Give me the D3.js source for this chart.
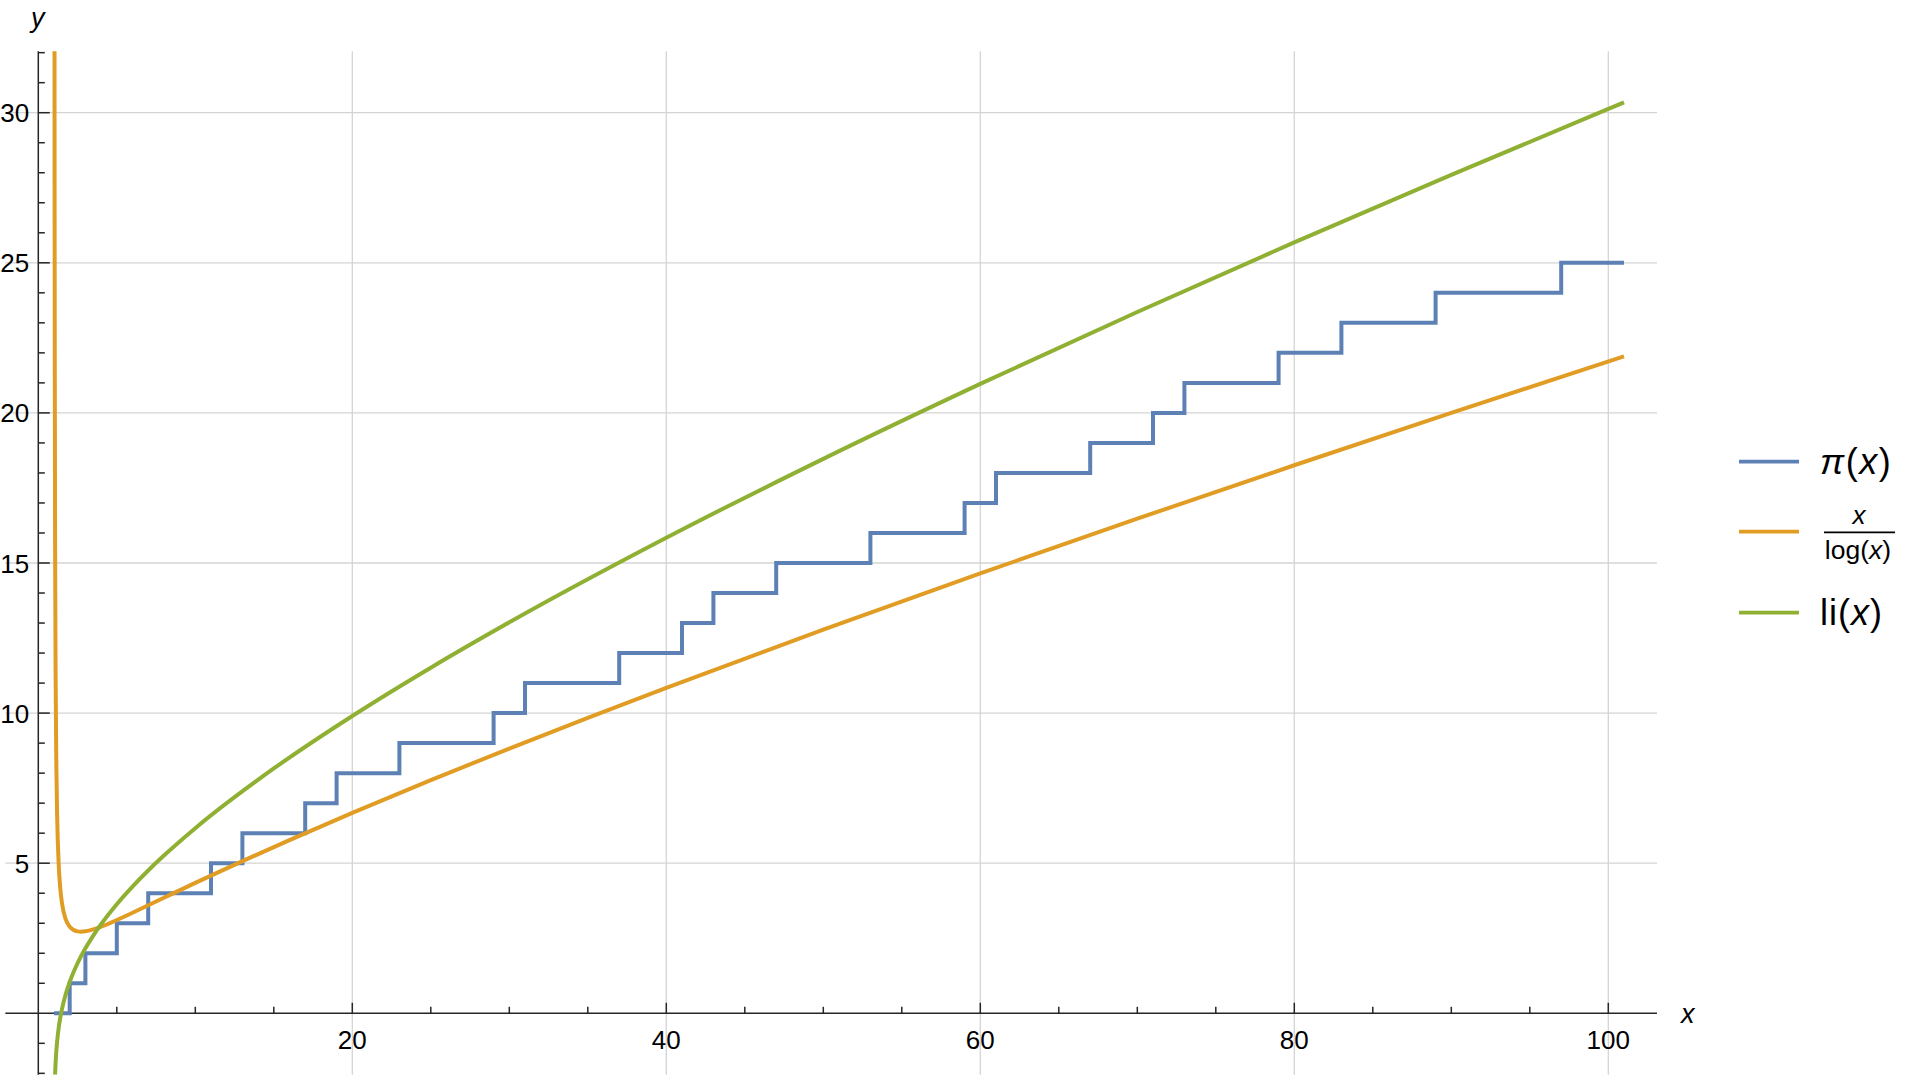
<!DOCTYPE html>
<html>
<head>
<meta charset="utf-8">
<script src="https://cdn.jsdelivr.net/npm/d3@7"></script>
<style>
  html, body { margin: 0; padding: 0; background: #fff; }
  svg { display: block; font-family: "Liberation Sans", Arial, sans-serif; }
</style>
</head>
<body>
<svg id="chart" width="1920" height="1079"></svg>
<script>
// ---- data ----
// prime counting function pi(x): step positions and values
const piX = [1, 2, 3, 5, 7, 11, 13, 17, 19, 23, 29, 31, 37, 41, 43, 47, 53, 59, 61, 67, 71, 73, 79, 83, 89, 97, 101];
const piY = [0, 1, 2, 3, 4, 5, 6, 7, 8, 9, 10, 11, 12, 13, 14, 15, 16, 17, 18, 19, 20, 21, 22, 23, 24, 25, 25];

// x / log(x) samples
const xlogX = [1.03, 1.04, 1.05, 1.07, 1.1, 1.15, 1.2, 1.3, 1.4, 1.5, 1.75, 2, 2.5, 2.718, 3, 3.5, 4, 5, 6, 8, 10, 13, 16, 20, 25, 30, 35, 40, 50, 60, 70, 80, 90, 101];
const xlogY = [34.85, 26.52, 21.52, 15.81, 11.54, 8.23, 6.58, 4.955, 4.161, 3.699, 3.127, 2.885, 2.728, 2.718, 2.731, 2.794, 2.885, 3.107, 3.349, 3.847, 4.343, 5.068, 5.771, 6.676, 7.767, 8.820, 9.844, 10.843, 12.781, 14.654, 16.476, 18.256, 20.001, 21.885];

// li(x) samples
const liX = [1.07, 1.08, 1.1, 1.15, 1.2, 1.3, 1.4, 1.5, 1.75, 2, 2.5, 3, 3.5, 4, 5, 6, 7, 8, 10, 15, 20, 25, 30, 40, 50, 60, 70, 80, 90, 100, 101];
const liY = [-2.047, -1.909, -1.676, -1.246, -0.934, -0.480, -0.145, 0.125, 0.645, 1.045, 1.667, 2.164, 2.589, 2.968, 3.635, 4.222, 4.757, 5.254, 6.166, 8.155, 9.905, 11.513, 13.023, 15.840, 18.469, 20.966, 23.362, 25.679, 27.930, 30.126, 30.343];

// axis ticks
const xMajorTicks = [20, 40, 60, 80, 100];
const xMinorTicks = [5, 10, 15, 25, 30, 35, 45, 50, 55, 65, 70, 75, 85, 90, 95];
const yMajorTicks = [5, 10, 15, 20, 25, 30];
const yMinorTicks = [-2, -1, 1, 2, 3, 4, 6, 7, 8, 9, 11, 12, 13, 14, 16, 17, 18, 19, 21, 22, 23, 24, 26, 27, 28, 29, 31, 32];

const seriesColors = ["#5E81B5", "#E19C24", "#8FB032"];

// ---- scales ----
const x = d3.scaleLinear().domain([-2.1, 103.1]).range([38.3 - 2.1 * 15.7, 38.3 + 103.1 * 15.7]);
const y = d3.scaleLinear().domain([-2.05, 32.05]).range([1013.3 + 2.05 * 30.02, 1013.3 - 32.05 * 30.02]);

const svg = d3.select("#chart");
svg.append("rect").attr("width", 1920).attr("height", 1079).attr("fill", "#fff");

const [x0, x1] = x.range();
const [yb, yt] = y.range();

// clip
svg.append("clipPath").attr("id", "plotclip")
  .append("rect").attr("x", x0).attr("y", yt).attr("width", x1 - x0).attr("height", yb - yt);

// grid
const grid = svg.append("g").attr("stroke", "#d4d4d4").attr("stroke-width", 1.3);
grid.selectAll("line.v").data(xMajorTicks).join("line")
  .attr("x1", d => x(d)).attr("x2", d => x(d)).attr("y1", yt).attr("y2", yb);
grid.selectAll("line.h").data(yMajorTicks).join("line")
  .attr("y1", d => y(d)).attr("y2", d => y(d)).attr("x1", x0).attr("x2", x1);

// axes
const axisColor = "#262626";
const ax = svg.append("g").attr("stroke", axisColor).attr("stroke-width", 1.5);
ax.append("line").attr("x1", x0).attr("x2", x1).attr("y1", y(0)).attr("y2", y(0));
ax.append("line").attr("x1", x(0)).attr("x2", x(0)).attr("y1", yt).attr("y2", yb);
ax.selectAll("line.xmaj").data(xMajorTicks).join("line")
  .attr("x1", d => x(d)).attr("x2", d => x(d)).attr("y1", y(0)).attr("y2", y(0) - 10.5);
ax.selectAll("line.xmin").data(xMinorTicks).join("line")
  .attr("x1", d => x(d)).attr("x2", d => x(d)).attr("y1", y(0)).attr("y2", y(0) - 6.5);
ax.selectAll("line.ymaj").data(yMajorTicks).join("line")
  .attr("y1", d => y(d)).attr("y2", d => y(d)).attr("x1", x(0)).attr("x2", x(0) + 11.5);
ax.selectAll("line.ymin").data(yMinorTicks).join("line")
  .attr("y1", d => y(d)).attr("y2", d => y(d)).attr("x1", x(0)).attr("x2", x(0) + 6.5);

// tick labels
const labels = svg.append("g").attr("font-size", 26).attr("fill", "#000");
labels.selectAll("text.xl").data(xMajorTicks).join("text")
  .attr("x", d => x(d)).attr("y", 1048.5).attr("text-anchor", "middle").text(d => d);
labels.selectAll("text.yl").data(yMajorTicks).join("text")
  .attr("x", 29.2).attr("y", d => y(d) + 9.5).attr("text-anchor", "end").text(d => d);

// axis labels
svg.append("text").attr("x", 31).attr("y", 27).attr("font-size", 27).attr("font-style", "italic").text("y");
svg.append("text").attr("x", 1681).attr("y", 1023).attr("font-size", 27).attr("font-style", "italic").text("x");

// curves
const plot = svg.append("g").attr("clip-path", "url(#plotclip)").attr("fill", "none")
  .attr("stroke-width", 4).attr("stroke-linejoin", "round");

const liData = liX.map((v, i) => [v, liY[i]]);
const xlogData = xlogX.map((v, i) => [v, xlogY[i]]);
const piData = piX.map((v, i) => [v, piY[i]]);

const smooth = d3.line().x(d => x(d[0])).y(d => y(d[1])).curve(d3.curveMonotoneX);
const step = d3.line().x(d => x(d[0])).y(d => y(d[1])).curve(d3.curveStepAfter);

plot.append("path").attr("d", step(piData)).attr("stroke", seriesColors[0]).attr("stroke-linejoin", "miter");
plot.append("path").attr("d", smooth(xlogData)).attr("stroke", seriesColors[1]);
plot.append("path").attr("d", smooth(liData)).attr("stroke", seriesColors[2]);

// legend
const lg = svg.append("g");
const legendY = [461.7, 531.7, 612.7];
lg.selectAll("line").data(seriesColors).join("line")
  .attr("x1", 1739).attr("x2", 1799)
  .attr("y1", (d, i) => legendY[i]).attr("y2", (d, i) => legendY[i])
  .attr("stroke", d => d).attr("stroke-width", 3.8);

const t1 = lg.append("text").attr("x", 1820).attr("y", 474).attr("font-size", 36).attr("letter-spacing", 1.5);
t1.append("tspan").attr("font-style", "italic").text("\u03C0");
t1.append("tspan").text("(");
t1.append("tspan").attr("font-style", "italic").text("x");
t1.append("tspan").text(")");

lg.append("text").attr("x", 1859).attr("y", 524).attr("font-size", 26)
  .attr("text-anchor", "middle").attr("font-style", "italic").text("x");
lg.append("line").attr("x1", 1824).attr("x2", 1895).attr("y1", 532.3).attr("y2", 532.3)
  .attr("stroke", "#000").attr("stroke-width", 1.8);
const t2 = lg.append("text").attr("x", 1858).attr("y", 559).attr("font-size", 26.5).attr("text-anchor", "middle");
t2.append("tspan").text("log(");
t2.append("tspan").attr("font-style", "italic").text("x");
t2.append("tspan").text(")");

const t3 = lg.append("text").attr("x", 1820).attr("y", 625).attr("font-size", 36).attr("letter-spacing", 1);
t3.append("tspan").text("li(");
t3.append("tspan").attr("font-style", "italic").text("x");
t3.append("tspan").text(")");
</script>
</body>
</html>
